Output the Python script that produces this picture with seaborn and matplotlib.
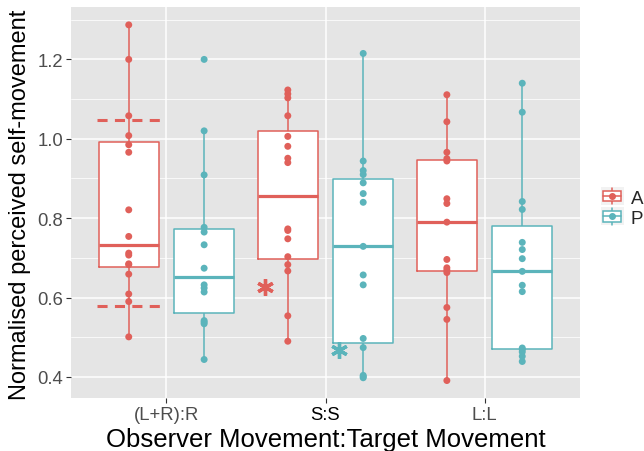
import numpy as np
import pandas as pd
import matplotlib
matplotlib.use("Agg")
import matplotlib.pyplot as plt
import seaborn as sns
from matplotlib.patches import Rectangle, Patch
from matplotlib.lines import Line2D
from matplotlib.legend_handler import HandlerBase
from matplotlib.ticker import MultipleLocator

# ---------------- data ----------------
categories = ["(L+R):R", "S:S", "L:L"]
conditions = ["A", "P"]

lr_r_A = [1.287, 1.200, 1.058, 1.008, 0.985, 0.966, 0.821, 0.754, 0.712, 0.707,
          0.685, 0.683, 0.659, 0.609, 0.590, 0.501]
lr_r_P = [1.200, 1.020, 0.909, 0.777, 0.765, 0.733, 0.674, 0.632, 0.624, 0.614,
          0.542, 0.538, 0.534, 0.444]
ss_A = [1.123, 1.113, 1.103, 1.058, 1.006, 0.981, 0.951, 0.940, 0.773, 0.769,
        0.748, 0.703, 0.683, 0.667, 0.554, 0.490]
ss_P = [1.215, 0.944, 0.920, 0.910, 0.889, 0.862, 0.840, 0.729, 0.657, 0.632,
        0.497, 0.474, 0.404, 0.401, 0.398]
ll_A = [1.111, 1.043, 0.966, 0.950, 0.944, 0.849, 0.837, 0.790, 0.696, 0.675,
        0.669, 0.663, 0.575, 0.545, 0.391]
ll_P = [1.140, 1.067, 0.842, 0.822, 0.739, 0.721, 0.698, 0.666, 0.631, 0.615,
        0.473, 0.469, 0.463, 0.452, 0.439]

dashed_levels_lr_A = [1.048, 0.579]      # dashed reference lines, (L+R):R / A
star_A_value = 0.626                      # red asterisk (S:S)
star_P_value = 0.469                      # cyan asterisk (S:S)

y_ticks = [0.4, 0.6, 0.8, 1.0, 1.2]
y_tick_labels = ["0.4", "0.6", "0.8", "1.0", "1.2"]

series = {
    ("(L+R):R", "A"): lr_r_A, ("(L+R):R", "P"): lr_r_P,
    ("S:S", "A"): ss_A, ("S:S", "P"): ss_P,
    ("L:L", "A"): ll_A, ("L:L", "P"): ll_P,
}
rows = []
for (cat, cond), vals in series.items():
    for v in vals:
        rows.append({"movement": cat, "condition": cond, "value": v})
df = pd.DataFrame(rows)

# ---------------- style ----------------
RED = "#E0605A"
CYAN = "#5BB4BB"
pal = {"A": RED, "P": CYAN}

sns.set_style("darkgrid", rc={"axes.facecolor": "#E5E5E5", "grid.color": "white"})
plt.rcParams["font.family"] = ["Liberation Sans", "DejaVu Sans"]

fig = plt.figure(figsize=(6.44, 4.52), dpi=100)
ax = fig.add_axes([71 / 644, 1 - 399 / 452, 509 / 644, 391 / 452])

WIDTH = 0.948
GAP = 0.205
HALF = WIDTH / 4

# white filled boxes underneath
sns.boxplot(data=df, x="movement", y="value", hue="condition", order=categories,
            hue_order=conditions, palette={"A": "white", "P": "white"}, fill=True,
            width=WIDTH, gap=GAP, linewidth=0, showcaps=False, showfliers=False,
            whiskerprops=dict(visible=False), medianprops=dict(visible=False),
            legend=False, ax=ax)
# coloured outlines / whiskers / medians
sns.boxplot(data=df, x="movement", y="value", hue="condition", order=categories,
            hue_order=conditions, palette=pal, fill=False,
            width=WIDTH, gap=GAP, linewidth=1.1, showcaps=False, showfliers=False,
            medianprops=dict(linewidth=2.3), legend=False, ax=ax)

n_before = len(ax.collections)
sns.stripplot(data=df, x="movement", y="value", hue="condition", order=categories,
              hue_order=conditions, palette=pal, jitter=False, dodge=True, size=5.0,
              linewidth=0, legend=False, zorder=4, ax=ax)
for coll in ax.collections[n_before:]:
    off = np.asarray(coll.get_offsets(), dtype=float)
    if len(off):
        cx = np.round(off[:, 0])
        d = off[:, 0] - cx
        off[:, 0] = cx + np.sign(d) * HALF
        coll.set_offsets(off)

# dashed reference lines
for lvl in dashed_levels_lr_A:
    ax.plot([0 - HALF - 0.2, 0 - HALF + 0.2], [lvl, lvl], color=RED, lw=2.2,
            ls=(0, (3.3, 2.4)), zorder=3, solid_capstyle="butt")

# asterisks
ax.plot([1 - 0.38], [star_A_value], ls="none", marker=(6, 2, 0), ms=12, mew=2.4,
        color=RED, zorder=5)
ax.plot([1 + 0.085], [star_P_value], ls="none", marker=(6, 2, 0), ms=12, mew=2.4,
        color=CYAN, zorder=5)

# axes formatting
ax.set_xlim(-0.6, 2.6)
ax.set_ylim(0.347, 1.332)
ax.set_yticks(y_ticks)
ax.set_yticklabels(y_tick_labels)
ax.yaxis.set_minor_locator(MultipleLocator(0.1))
ax.grid(which="major", color="white", lw=1.1)
ax.grid(which="minor", axis="y", color="white", lw=0.55)
ax.grid(which="minor", axis="x", visible=False)
ax.set_axisbelow(True)
for s in ax.spines.values():
    s.set_visible(False)
ax.tick_params(which="major", bottom=True, left=True, length=3.3, width=0.8,
               color="#333333", labelsize=13.3, labelcolor="#4D4D4D", pad=2.4)
ax.tick_params(which="minor", left=False, bottom=False)
for lab in ax.get_xticklabels():
    if lab.get_text() == "S:S":
        lab.set_color("black")

ax.set_xlabel("Observer Movement:Target Movement", fontsize=18.5, color="black")
ax.xaxis.label.set_va("baseline")
ax.xaxis.set_label_coords(0.5, -0.1228)
ax.set_ylabel("Normalised perceived self-movement", fontsize=17, color="black")
ax.yaxis.label.set_va("center")
ax.yaxis.set_label_coords(-0.100, 0.497)


# legend with mini boxplot keys
class BoxKey(HandlerBase):
    def create_artists(self, legend, orig_handle, xdescent, ydescent, width, height,
                       fontsize, trans):
        c = orig_handle.get_edgecolor()
        x0, y0 = -xdescent, -ydescent
        bg = Rectangle((x0, y0), width, height, fc="#F2F2F2", ec="none", transform=trans)
        vl = Line2D([x0 + width / 2] * 2, [y0 + 0.04 * height, y0 + 0.96 * height],
                    color=c, lw=1.1, transform=trans)
        box = Rectangle((x0 + 0.1 * width, y0 + 0.22 * height), 0.8 * width, 0.56 * height,
                        fc="white", ec=c, lw=1.1, transform=trans)
        med = Line2D([x0 + 0.1 * width, x0 + 0.9 * width], [y0 + height / 2] * 2,
                     color=c, lw=1.1, transform=trans)
        dot = Line2D([x0 + width / 2], [y0 + height / 2], marker="o", ms=4, color=c,
                     ls="none", transform=trans)
        return [bg, vl, box, med, dot]


handles = [Patch(edgecolor=RED, facecolor="white"), Patch(edgecolor=CYAN, facecolor="white")]
fig.legend(handles, conditions, handler_map={Patch: BoxKey()}, loc="center left",
           bbox_to_anchor=(601 / 644, 1 - 208 / 452), bbox_transform=fig.transFigure,
           frameon=False, borderpad=0, borderaxespad=0, handlelength=1.2,
           handleheight=1.1, handletextpad=0.4, labelspacing=0.05, fontsize=13.5)

fig.savefig("out.png", dpi=100)
